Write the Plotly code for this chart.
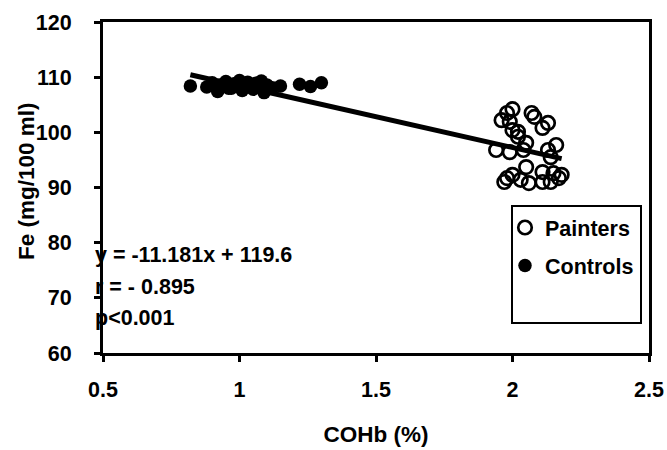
import plotly.graph_objects as go

# Data
painters_x = [1.96, 1.98, 2.00, 1.99, 2.00, 2.02, 2.07, 2.08, 2.11, 2.13,
              1.94, 1.99, 2.05, 2.04, 2.13, 2.16, 2.14, 2.05, 1.98, 2.00,
              2.03, 2.06, 2.11, 2.11, 2.15, 2.17, 2.18, 1.97, 2.14, 2.02]
painters_y = [102.2, 103.5, 104.2, 101.9, 100.4, 99.2, 103.5, 102.8, 100.8, 101.7,
              96.8, 96.4, 98.1, 96.8, 96.8, 97.7, 95.5, 93.7, 91.7, 92.3,
              91.4, 90.8, 91.0, 92.8, 92.6, 91.7, 92.3, 91.0, 91.0, 100.1]

controls_x = [0.82, 0.88, 0.90, 0.92, 0.93, 0.95, 0.97, 0.98, 1.00, 1.01,
              1.02, 1.03, 1.05, 1.06, 1.07, 1.08, 1.09, 1.10, 1.12, 1.15,
              1.22, 1.26, 1.30, 0.96, 1.04]
controls_y = [108.4, 108.2, 109.0, 107.4, 108.6, 109.2, 108.0, 108.8, 109.4, 107.6,
              108.5, 109.1, 107.8, 108.9, 108.3, 109.3, 107.2, 108.6, 108.1, 108.4,
              108.7, 108.3, 109.0, 108.0, 108.2]

slope = -11.181
intercept = 119.6
stats_lines = ["y = -11.181x + 119.6", "r = - 0.895", "p<0.001"]

x_ticks = [0.5, 1, 1.5, 2, 2.5]
x_tick_text = ["0.5", "1", "1.5", "2", "2.5"]
y_ticks = [60, 70, 80, 90, 100, 110, 120]

FONT = "Liberation Sans, Arial, sans-serif"
FS = 21.5
FT = 22.5
all_x = painters_x + controls_x
fit_x = [min(all_x), max(all_x)]
fit_y = [slope * v + intercept for v in fit_x]

fig = go.Figure()
fig.add_trace(go.Scatter(
    x=painters_x, y=painters_y, mode="markers", name="Painters",
    legendgroup="p",
    marker=dict(symbol="circle-open", size=13.5, color="black",
                line=dict(width=2.7, color="black")),
))
fig.add_trace(go.Scatter(
    x=controls_x, y=controls_y, mode="markers", name="Controls",
    legendgroup="c",
    marker=dict(symbol="circle", size=13.5, color="black"),
))
fig.add_trace(go.Scatter(
    x=fit_x, y=fit_y, mode="lines", showlegend=False,
    line=dict(color="black", width=5),
))

W, H = 667, 450
L, R, T, B = 103, 18, 22, 97

for i, txt in enumerate(stats_lines):
    fig.add_annotation(
        text=txt, xref="paper", yref="paper",
        x=(93 - L) / (W - L - R), y=(H - B - (255 + 31.5 * i)) / (H - T - B),
        xanchor="left", yanchor="middle", showarrow=False,
        font=dict(family=FONT, size=FS, color="black", weight="bold"),
    )

# y-axis title placed as rotated text
fig.add_annotation(
    text="Fe (mg/100 ml)", xref="paper", yref="paper",
    x=(26 - L) / (W - L - R), y=(H - B - 181) / (H - T - B),
    xanchor="center", yanchor="middle", textangle=-90, showarrow=False,
    font=dict(family=FONT, size=FT, color="black", weight="bold"),
)

# legend frame
fig.add_shape(type="rect", xref="paper", yref="paper",
              x0=(512 - L) / (W - L - R), x1=(641 - L) / (W - L - R),
              y0=(H - B - 323) / (H - T - B), y1=(H - B - 206) / (H - T - B),
              line=dict(color="black", width=2), fillcolor="rgba(0,0,0,0)")

axis_common = dict(
    showline=True, linewidth=3, linecolor="black", mirror=True,
    ticks="outside", ticklen=6, tickwidth=2.5, tickcolor="black",
    showgrid=False, zeroline=False,
    tickfont=dict(family=FONT, size=FS, color="black", weight="bold"),
)

fig.update_layout(
    width=W, height=H,
    margin=dict(l=L, r=R, t=T, b=B, autoexpand=False),
    plot_bgcolor="white", paper_bgcolor="white",
    font=dict(family=FONT, color="black"),
    xaxis=dict(range=[0.5, 2.5], tickvals=x_ticks, ticktext=x_tick_text,
               ticklabelstandoff=9,
               title=dict(text="COHb (%)", standoff=26,
                          font=dict(family=FONT, size=FT, color="black", weight="bold")),
               **axis_common),
    yaxis=dict(range=[60, 120], tickvals=y_ticks, ticklabelstandoff=18,
               **axis_common),
    legend=dict(x=(505 - L) / (W - L - R), y=(H - B - 207) / (H - T - B),
                xanchor="left", yanchor="top", bgcolor="rgba(0,0,0,0)",
                borderwidth=0, tracegroupgap=7,
                font=dict(family=FONT, size=FS, color="black", weight="bold")),
    showlegend=True,
)

fig.write_html("out.html")
